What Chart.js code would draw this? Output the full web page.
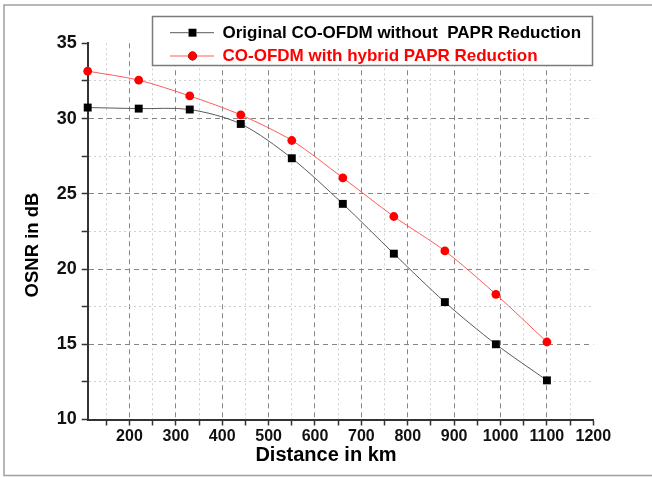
<!DOCTYPE html>
<html>
<head>
<meta charset="utf-8">
<script src="https://cdn.jsdelivr.net/npm/chart.js@4.4.0/dist/chart.umd.min.js"></script>
<style>
body { margin: 0; background: #fff; }
#wrap { width: 652px; height: 477px; }
</style>
</head>
<body>
<div id="wrap"><canvas id="myChartOsnr" width="652" height="477"></canvas></div>
<script>
// values
const distances = [110, 220, 330, 440, 550, 660, 770, 880, 990, 1100];
const osnrOriginal = [30.73, 30.66, 30.6, 29.64, 27.36, 24.33, 21.02, 17.8, 15.0, 12.6];
const osnrHybrid = [33.15, 32.55, 31.5, 30.24, 28.54, 26.06, 23.49, 21.2, 18.32, 15.15];

const xTickLabels = [200, 300, 400, 500, 600, 700, 800, 900, 1000, 1100, 1200];
const xMinorTicks = [150, 250, 350, 450, 550, 650, 750, 850, 950, 1050, 1150];
const yTickLabels = [10, 15, 20, 25, 30, 35];
const yMinorTicks = [12.5, 17.5, 22.5, 27.5, 32.5];

const seriesNames = ['Original CO-OFDM without  PAPR Reduction', 'CO-OFDM with hybrid PAPR Reduction'];
const xTitle = 'Distance in km';
const yTitle = 'OSNR in dB';

const FONT = "'Liberation Sans', Arial, sans-serif";

function toPoints(xs, ys){
    let pts = [];
    for(let i in xs){
        pts.push({x: xs[i], y: ys[i]});
    }
    return pts;
}

function gridColor(isMajor, isEnd){
    if(isEnd) return 'rgba(0,0,0,0)';
    return isMajor ? '#858585' : '#cfcfcf';
}

// white page + grey frame (left, top, bottom)
const framePlugin = {
    id: 'frame',
    beforeDraw(chart){
        const c = chart.ctx;
        c.save();
        c.fillStyle = '#fff';
        c.fillRect(0, 0, chart.width, chart.height);
        c.strokeStyle = '#a0a0a0';
        c.lineWidth = 1.5;
        c.beginPath();
        c.moveTo(652, 5);
        c.lineTo(4, 5);
        c.lineTo(4, 475.5);
        c.lineTo(652, 475.5);
        c.stroke();
        c.restore();
    }
};

// axis titles (Origin puts them a bit off-centre)
const titlesPlugin = {
    id: 'titles',
    afterDraw(chart){
        const c = chart.ctx;
        c.save();
        c.fillStyle = '#000';
        c.textAlign = 'center';
        c.textBaseline = 'middle';
        c.font = 'bold 20px ' + FONT;
        c.fillText(xTitle, 326, 455);
        c.translate(33, 245);
        c.rotate(-Math.PI / 2);
        c.font = 'bold 18.5px ' + FONT;
        c.fillText(yTitle, 0, 0);
        c.restore();
    }
};

// boxed legend like the Origin one
const legendBoxPlugin = {
    id: 'legendBox',
    afterDraw(chart){
        const c = chart.ctx;
        c.save();
        c.fillStyle = '#fff';
        c.fillRect(152.5, 16.5, 440, 49);
        c.strokeStyle = '#7a7a7a';
        c.lineWidth = 1.5;
        c.strokeRect(152.5, 16.5, 440, 49);
        const rows = [32.7, 56];
        chart.data.datasets.forEach(function(ds, i){
            const y = rows[i];
            c.strokeStyle = ds.borderColor;
            c.lineWidth = 1;
            c.beginPath();
            c.moveTo(170, y);
            c.lineTo(214, y);
            c.stroke();
            Chart.helpers.drawPoint(c, {pointStyle: ds.pointStyle, radius: ds.pointRadius, borderWidth: 0}, 192.5, y);
            c.fillStyle = ds.pointBackgroundColor;
            c.fill();
            c.fillStyle = ds.legendColor;
            c.font = 'bold 17px ' + FONT;
            c.textAlign = 'left';
            c.textBaseline = 'middle';
            c.fillText(ds.label, 222.5, y + 0.5);
        });
        c.restore();
    }
};

let canvas = document.getElementById('myChartOsnr');

let dataChart = {
    datasets: [
        {
            label: seriesNames[0],
            data: toPoints(distances, osnrOriginal),
            borderColor: '#5a5a5a',
            borderWidth: 1,
            pointStyle: 'rect',
            pointRadius: 5.6,
            pointBackgroundColor: '#000',
            pointBorderColor: '#000',
            pointBorderWidth: 0,
            legendColor: '#000',
            tension: 0.3,
            clip: false
        },
        {
            label: seriesNames[1],
            data: toPoints(distances, osnrHybrid),
            borderColor: '#ff5a5a',
            borderWidth: 1,
            pointStyle: 'circle',
            pointRadius: 4.4,
            pointBackgroundColor: '#ff0000',
            pointBorderColor: '#ff0000',
            pointBorderWidth: 0,
            legendColor: '#ff0000',
            tension: 0.3,
            clip: false
        }
    ]
};

let options = {
    responsive: false,
    animation: false,
    events: [],
    layout: {
        padding: {left: 0, top: 43.3, right: 58.7, bottom: 0}
    },
    plugins: {
        legend: {display: false},
        tooltip: {enabled: false}
    },
    scales: {
        x: {
            type: 'linear',
            min: 110,
            max: 1200,
            afterBuildTicks: function(scale){
                scale.ticks = xMinorTicks.concat(xTickLabels).sort(function(a, b){ return a - b; }).map(function(v){ return {value: v}; });
            },
            afterFit: function(scale){
                scale.height = 57.5;
            },
            ticks: {
                autoSkip: false,
                maxRotation: 0,
                padding: 1,
                color: '#111',
                font: {family: FONT, size: 16, weight: 'bold'},
                callback: function(v){
                    return xTickLabels.includes(v) ? String(v) : '';
                }
            },
            grid: {
                color: function(ctx){
                    const v = ctx.tick ? ctx.tick.value : null;
                    return gridColor(xTickLabels.includes(v), v === 1200);
                },
                lineWidth: 1,
                tickColor: '#333',
                tickWidth: 1.5,
                tickLength: 6,
                tickBorderDash: []
            },
            border: {
                display: true,
                color: '#333',
                width: 2,
                dash: function(ctx){
                    const v = ctx.tick ? ctx.tick.value : null;
                    return xTickLabels.includes(v) ? [5, 4] : [2, 3];
                }
            }
        },
        y: {
            type: 'linear',
            min: 10,
            max: 35,
            afterBuildTicks: function(scale){
                scale.ticks = yMinorTicks.concat(yTickLabels).sort(function(a, b){ return a - b; }).map(function(v){ return {value: v}; });
            },
            afterFit: function(scale){
                scale.width = 87.7;
            },
            ticks: {
                autoSkip: false,
                padding: 5,
                color: '#111',
                font: {family: FONT, size: 18, weight: 'bold'},
                callback: function(v){
                    return yTickLabels.includes(v) ? String(v) : '';
                }
            },
            grid: {
                color: function(ctx){
                    const v = ctx.tick ? ctx.tick.value : null;
                    return gridColor(yTickLabels.includes(v), v === 35 || v === 10);
                },
                lineWidth: 1,
                tickColor: '#333',
                tickWidth: 1.5,
                tickLength: 6,
                tickBorderDash: []
            },
            border: {
                display: true,
                color: '#333',
                width: 2,
                dash: function(ctx){
                    const v = ctx.tick ? ctx.tick.value : null;
                    return yTickLabels.includes(v) ? [5, 4] : [2, 3];
                }
            }
        }
    }
};

let myChartOsnr = new Chart(canvas, {
    type: 'line',
    data: dataChart,
    options: options,
    plugins: [framePlugin, titlesPlugin, legendBoxPlugin]
});
</script>
</body>
</html>
